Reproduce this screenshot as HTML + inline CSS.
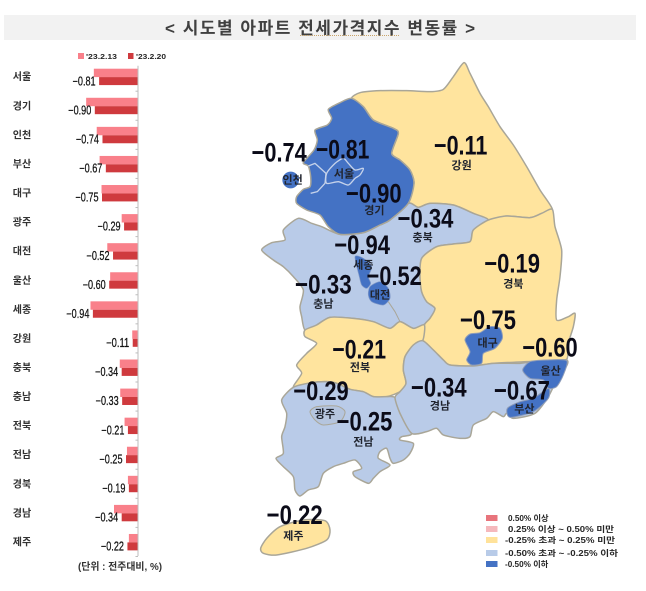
<!DOCTYPE html>
<html lang="ko">
<head>
<meta charset="utf-8">
<title>시도별 아파트 전세가격지수 변동률</title>
<style>
html,body{margin:0;padding:0;background:#fff;width:646px;height:591px;overflow:hidden}
svg{display:block;filter:blur(0.35px)}
text{font-family:"Liberation Sans","Noto Sans CJK KR",sans-serif}
.k{font-family:"Liberation Sans","Noto Sans CJK KR",sans-serif;font-weight:700;fill:#262626}
.big{font-weight:700;font-size:81px;fill:#0b0b18}
.sm{font-weight:700;font-size:33px;fill:#20242e;text-anchor:middle}
.reg{stroke:#a9a698;stroke-width:4.5;stroke-linejoin:round}
.yl{fill:#ffe49e}.lb{fill:#b9cbe8}.db{fill:#4472c4}
</style>
</head>
<body>
<svg id="chart" xmlns="http://www.w3.org/2000/svg" width="646" height="591" viewBox="0 0 646 591">
  <rect x="4" y="15" width="632" height="25" fill="#f2f2f2"/>
  <text x="165" y="34" font-size="17" font-weight="700" fill="#404040" textLength="310" lengthAdjust="spacing">&lt; 시도별 아파트 전세가격지수 변동률 &gt;</text>
  <line x1="300" y1="35.5" x2="400" y2="35.5" stroke="#c9a46a" stroke-width="1" stroke-dasharray="1 1"/>

  <g>
    <rect x="78" y="53" width="6" height="6" fill="#f9808a"/>
    <text class="k" x="86" y="59" font-size="7.5" textLength="31" lengthAdjust="spacingAndGlyphs">'23.2.13</text>
    <rect x="128" y="53" width="5.5" height="6" fill="#cf3a3e"/>
    <text class="k" x="136" y="59" font-size="7.5" textLength="30" lengthAdjust="spacingAndGlyphs">'23.2.20</text>
  </g>

  <g id="bars"></g>

  <text x="78" y="570" font-size="10" font-weight="700" fill="#333" textLength="84" lengthAdjust="spacingAndGlyphs">(단위 : 전주대비, %)</text>

  <g transform="translate(240 50) scale(0.33333)">
    <path class="reg yl" data-pts="335,145 360,128 420,122 500,122 570,125 610,118 640,80 672,38 690,70 720,130 745,170 780,230 820,285 860,350 900,420 937,478 905,490 870,503 800,498 745,510 700,490 640,465 570,460 535,472 505,460 522,400 510,360 480,330 455,310 475,250 460,235 400,210 370,170"/>
    <path class="reg lb" data-pts="505,460 535,472 570,460 640,465 700,490 745,510 700,540 690,575 640,582 590,590 545,625 540,680 545,725 560,755 585,775 570,805 550,825 520,835 480,815 450,835 400,815 340,805 270,802 230,825 195,840 185,800 180,770 190,720 160,680 130,650 100,630 65,600 95,578 135,570 130,540 175,505 215,520 245,530 300,553 370,548 420,525 450,510"/>
    <polyline points="445,755 465,785 480,815" fill="none" stroke="#a9a698" stroke-width="3"/>
    <path class="reg yl" data-pts="745,510 800,498 870,503 905,490 937,478 945,530 965,600 960,680 950,750 950,810 985,800 1005,790 1000,830 985,880 980,928 930,932 860,935 760,940 700,948 630,945 610,930 580,900 548,872 553,825 570,805 585,775 560,755 545,725 540,680 545,625 590,590 640,582 690,575 700,540"/>
    <path class="reg yl" data-pts="195,840 230,825 270,802 340,805 400,815 450,835 480,815 520,835 553,825 548,872 520,885 495,920 490,960 498,1000 480,1025 440,1040 400,1040 370,1025 330,1018 290,1000 260,995 215,998 160,1012 185,970 170,945 200,910 230,880 195,860"/>
    <path class="reg lb" data-pts="160,1012 215,998 260,995 290,1000 330,1018 370,1025 400,1040 440,1040 465,1043 480,1090 515,1150 485,1160 480,1170 520,1180 510,1210 490,1230 460,1240 450,1225 440,1195 420,1205 415,1225 450,1245 420,1265 400,1285 385,1300 345,1280 340,1265 365,1255 345,1230 310,1240 280,1250 250,1270 235,1310 205,1320 180,1338 165,1320 160,1280 130,1250 108,1225 130,1210 125,1160 135,1130 140,1090 125,1050"/>
    <path data-pts="210,1085 230,1070 290,1068 315,1085 300,1115 250,1125 225,1110" fill="#b5c5de" stroke="#a9a698" stroke-width="3"/>
    <path class="reg lb" data-pts="465,1043 480,1025 498,1000 490,960 495,920 520,885 548,872 580,900 610,930 630,945 700,948 760,940 840,940 880,935 980,930 970,965 950,990 925,1040 885,1090 820,1105 800,1090 790,1100 760,1085 740,1105 700,1125 690,1160 660,1165 610,1155 590,1135 560,1145 515,1150 480,1090"/>
    <path class="reg db" data-pts="335,145 300,158 265,178 275,205 262,225 225,240 232,270 222,300 190,338 205,348 212,380 210,410 190,418 170,440 170,460 200,480 240,495 265,530 300,553 370,548 420,525 450,510 505,460 522,400 510,360 480,330 455,310 475,250 460,235 400,210 370,170"/>
    <polyline points="205,348 225,340 258,370 255,400 232,425 212,430" fill="none" stroke="#c5d2ea" stroke-width="4" stroke-linejoin="round"/>
    <path data-pts="260,370 285,340 310,325 325,340 345,360 370,355 360,375 345,385 325,405 295,395 260,400" fill="#4472c4" stroke="#c5d2ea" stroke-width="4"/>
    <circle cx="152" cy="390" r="25" fill="#4472c4"/>
    <path data-pts="345,620 370,625 395,650 385,680 392,700 380,715 365,705 358,680" fill="#4472c4" stroke="#7f97c6" stroke-width="2"/>
    <path data-pts="390,710 420,695 445,715 450,745 430,765 395,755 385,735" fill="#4472c4" stroke="#7f97c6" stroke-width="2"/>
    <path data-pts="675,870 690,852 720,848 750,830 780,835 787,865 765,895 730,910 725,940 695,945 680,930 690,905" fill="#4472c4" stroke="#8e9cb8" stroke-width="3"/>
    <path data-pts="848,960 870,935 920,930 980,932 970,975 950,1010 925,1015 910,990 870,985" fill="#4472c4" stroke="#8e9cb8" stroke-width="3"/>
    <path data-pts="802,1075 840,1055 880,1045 925,1015 925,1045 880,1085 810,1102" fill="#4472c4" stroke="#8e9cb8" stroke-width="3"/>
    <path class="reg yl" data-pts="62,1495 80,1465 120,1430 190,1410 255,1412 270,1440 260,1470 200,1495 110,1515 70,1510"/>

    <g>
      <text class="sm" x="665" y="357">강원</text>
      <text class="sm" x="158" y="400">인천</text>
      <text class="sm" x="312" y="382">서울</text>
      <text class="sm" x="403" y="492">경기</text>
      <text class="sm" x="548" y="573">충북</text>
      <text class="sm" x="370" y="655">세종</text>
      <text class="sm" x="420" y="745">대전</text>
      <text class="sm" x="250" y="772">충남</text>
      <text class="sm" x="820" y="712">경북</text>
      <text class="sm" x="743" y="890">대구</text>
      <text class="sm" x="932" y="973">울산</text>
      <text class="sm" x="853" y="1088">부산</text>
      <text class="sm" x="360" y="963">전북</text>
      <text class="sm" x="255" y="1102">광주</text>
      <text class="sm" x="370" y="1187">전남</text>
      <text class="sm" x="600" y="1078">경남</text>
      <text class="sm" x="160" y="1468">제주</text>
    </g>
    <g>
      <text class="big" x="35" y="335" textLength="165" lengthAdjust="spacingAndGlyphs">−0.74</text>
      <text class="big" x="228" y="325" textLength="160" lengthAdjust="spacingAndGlyphs">−0.81</text>
      <text class="big" x="318" y="458" textLength="167" lengthAdjust="spacingAndGlyphs">−0.90</text>
      <text class="big" x="582" y="313" textLength="160" lengthAdjust="spacingAndGlyphs">−0.11</text>
      <text class="big" x="473" y="533" textLength="167" lengthAdjust="spacingAndGlyphs">−0.34</text>
      <text class="big" x="283" y="612" textLength="167" lengthAdjust="spacingAndGlyphs">−0.94</text>
      <text class="big" x="380" y="705" textLength="165" lengthAdjust="spacingAndGlyphs">−0.52</text>
      <text class="big" x="165" y="730" textLength="170" lengthAdjust="spacingAndGlyphs">−0.33</text>
      <text class="big" x="733" y="668" textLength="167" lengthAdjust="spacingAndGlyphs">−0.19</text>
      <text class="big" x="660" y="837" textLength="168" lengthAdjust="spacingAndGlyphs">−0.75</text>
      <text class="big" x="847" y="920" textLength="166" lengthAdjust="spacingAndGlyphs">−0.60</text>
      <text class="big" x="277" y="925" textLength="161" lengthAdjust="spacingAndGlyphs">−0.21</text>
      <text class="big" x="160" y="1050" textLength="166" lengthAdjust="spacingAndGlyphs">−0.29</text>
      <text class="big" x="513" y="1040" textLength="167" lengthAdjust="spacingAndGlyphs">−0.34</text>
      <text class="big" x="762" y="1048" textLength="168" lengthAdjust="spacingAndGlyphs">−0.67</text>
      <text class="big" x="290" y="1142" textLength="167" lengthAdjust="spacingAndGlyphs">−0.25</text>
      <text class="big" x="80" y="1422" textLength="168" lengthAdjust="spacingAndGlyphs">−0.22</text>
    </g>
  </g>

  <g>
    <rect x="486" y="515" width="11.5" height="6" fill="#e8747c"/>
    <text class="k" x="508" y="521" font-size="8.2">0.50% 이상</text>
    <rect x="486" y="526" width="11.5" height="6" fill="#f5b8bc"/>
    <text class="k" x="508" y="532" font-size="8.2" textLength="106" lengthAdjust="spacingAndGlyphs">0.25% 이상 ~ 0.50% 미만</text>
    <rect x="486" y="537" width="11.5" height="6" fill="#ffe29a"/>
    <text class="k" x="505" y="543" font-size="8.2" textLength="110" lengthAdjust="spacingAndGlyphs">-0.25% 초과 ~ 0.25% 미만</text>
    <rect x="486" y="550" width="11.5" height="6" fill="#b8cbe8"/>
    <text class="k" x="505" y="556" font-size="8.2" textLength="113" lengthAdjust="spacingAndGlyphs">-0.50% 초과 ~ -0.25% 이하</text>
    <rect x="486" y="561" width="11.5" height="6" fill="#4472c4"/>
    <text class="k" x="505" y="567" font-size="8.2">-0.50% 이하</text>
  </g>
</svg>
<script>
const categories = ["서울","경기","인천","부산","대구","광주","대전","울산","세종","강원","충북","충남","전북","전남","경북","경남","제주"];
const seriesFeb13 = [-0.92,-1.08,-0.86,-0.80,-0.76,-0.34,-0.64,-0.58,-0.99,-0.12,-0.38,-0.37,-0.28,-0.23,-0.21,-0.50,-0.19];
const seriesFeb20 = [-0.81,-0.90,-0.74,-0.67,-0.75,-0.29,-0.52,-0.60,-0.94,-0.11,-0.34,-0.33,-0.21,-0.25,-0.19,-0.34,-0.22];

const NS = "http://www.w3.org/2000/svg";
const barsRoot = document.getElementById("bars");
const AXIS_X = 138, UNIT_PX = 48, TOP_Y = 68.7, ROW_PITCH = 29.08;
const xPos = v => AXIS_X + v * UNIT_PX;
const rowTop = i => TOP_Y + i * ROW_PITCH;

function mk(tag, attrs, parent) {
  const el = document.createElementNS(NS, tag);
  for (const k in attrs) el.setAttribute(k, attrs[k]);
  parent.appendChild(el);
  return el;
}

categories.forEach((name, i) => {
  const y = rowTop(i);
  const lab = mk("text", {x: 22, y: y + 11.5, "font-size": 10, "font-weight": 700, fill: "#333", "text-anchor": "middle"}, barsRoot);
  
  
  lab.textContent = name;

  const a = mk("rect", {x: xPos(seriesFeb13[i]), y: y, width: AXIS_X - xPos(seriesFeb13[i]), height: 8.4, fill: "#f9808a"}, barsRoot);
  
  

  const b = mk("rect", {x: xPos(seriesFeb20[i]), y: y + 8.4, width: AXIS_X - xPos(seriesFeb20[i]), height: 8, fill: "#cf3a3e"}, barsRoot);
  
  

  const v = mk("text", {x: xPos(seriesFeb20[i]) - 26.5, y: y + 16.6, "font-size": 12.5, "font-weight": 400, fill: "#111", textLength: 23, lengthAdjust: "spacingAndGlyphs", stroke: "#111", "stroke-width": 0.25}, barsRoot);
  
  
  v.textContent = "−" + Math.abs(seriesFeb20[i]).toFixed(2);

  const t = mk("line", {x1: AXIS_X - 2.5, x2: AXIS_X, y1: y + 22.5, y2: y + 22.5, stroke: "#bdbdbd", "stroke-width": 1}, barsRoot);
  
  
});

const axisLine = mk("line", {x1: AXIS_X, x2: AXIS_X, y1: rowTop(0) - 3, y2: rowTop(categories.length) - 7, stroke: "#bdbdbd", "stroke-width": 1}, barsRoot);



document.querySelectorAll("path[data-pts]").forEach(p => {
  const pts = p.getAttribute("data-pts").trim().split(/\s+/).map(s => s.split(",").map(Number));
  const n = pts.length, T = 1 / 8;
  let d = "M" + pts[0][0] + " " + pts[0][1];
  for (let i = 0; i < n; i++) {
    const p0 = pts[(i - 1 + n) % n], p1 = pts[i], p2 = pts[(i + 1) % n], p3 = pts[(i + 2) % n];
    d += "C" + (p1[0] + (p2[0] - p0[0]) * T).toFixed(1) + " " + (p1[1] + (p2[1] - p0[1]) * T).toFixed(1) + " " +
         (p2[0] - (p3[0] - p1[0]) * T).toFixed(1) + " " + (p2[1] - (p3[1] - p1[1]) * T).toFixed(1) + " " + p2[0] + " " + p2[1];
  }
  p.setAttribute("d", d + "Z");
});
</script>
</body>
</html>
